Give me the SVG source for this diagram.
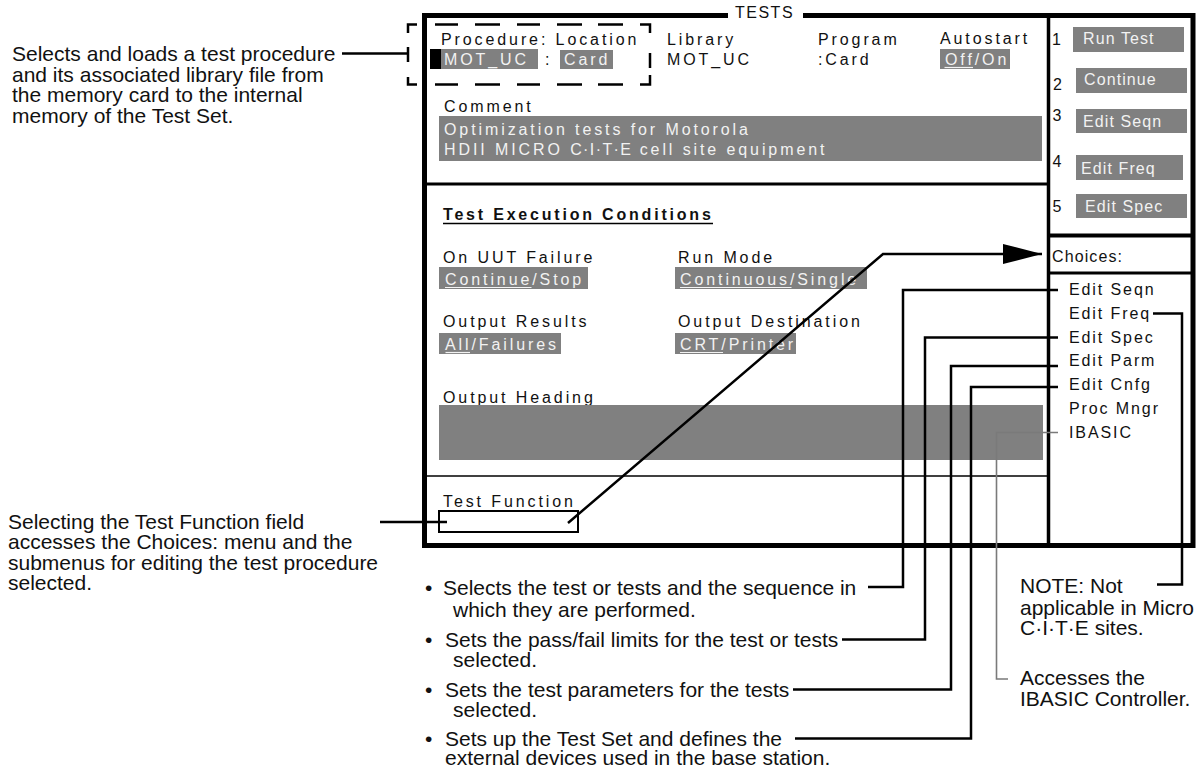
<svg xmlns="http://www.w3.org/2000/svg" width="1202" height="772" viewBox="0 0 1202 772">
  <style>
    text { font-family: "Liberation Sans", Arial, Helvetica, sans-serif; fill: #111; }
    .scr { font-size: 16px; letter-spacing: 2.9px; }
    .hdr { font-size: 16px; font-weight: bold; letter-spacing: 2.8px; }
    .key { font-size: 16px; letter-spacing: 1.1px; }
    .lst { font-size: 16px; letter-spacing: 1.9px; }
    .num { font-size: 16px; }
    .ann { font-size: 21px; }
    .inv { fill: #f2f2f2; }
    .fld { fill: #808080; }
    .frame { fill: none; stroke: #000; stroke-width: 5; }
    .rule { stroke: #000; fill: none; }
    .dash { stroke: #000; stroke-width: 2.5; fill: none; }
    .uline { stroke: #f2f2f2; stroke-width: 1.2; }
    .wire { stroke: #000; stroke-width: 2.5; fill: none; }
    .wire-grey { stroke: #7a7a7a; stroke-width: 1.6; fill: none; }
  </style>
  <defs>
    <marker id="arrow" markerUnits="userSpaceOnUse" markerWidth="40" markerHeight="22" refX="39" refY="11" orient="auto">
      <path d="M0,1 L39,11 L0,21 Z" fill="#000"/>
    </marker>
  </defs>

  <rect width="1202" height="772" fill="#fff"/>

  <!-- TESTS screen frame -->
  <g id="tests-screen">
    <path class="frame" d="M728,15.5 H424.5 V545.5 H1193 V15.5 H803"/>
    <text x="735" y="18" class="key" style="letter-spacing:1.5px">TESTS</text>
    <line class="rule" x1="1048.5" y1="15.5" x2="1048.5" y2="545.5" stroke-width="3.5"/>
    <line class="rule" x1="424.5" y1="184" x2="1048.5" y2="184" stroke-width="3"/>
    <line class="rule" x1="424.5" y1="476" x2="1048.5" y2="476" stroke-width="1.5"/>
  </g>

  <!-- Procedure / Location header fields -->
  <g id="procedure-field">
    <text x="441" y="45" class="scr">Procedure: Location</text>
    <rect x="430" y="49" width="11" height="20" fill="#000"/>
    <rect x="441" y="49" width="97" height="20" class="fld"/>
    <text x="444" y="65" class="scr inv">MOT_UC</text>
    <text x="545" y="65" class="scr">:</text>
    <rect x="560" y="50" width="53" height="19" class="fld"/>
    <text x="564" y="65" class="scr inv">Card</text>
    <path class="dash" d="M408,33 V24.5 H417 M435,24.5 H458 M475,24.5 H500 M517,24.5 H540 M557,24.5 H582 M598,24.5 H623 M640,24.5 H650 V33
                           M408,47 V62 M650,53 V68
                           M408,77 V84.5 H417 M435,84.5 H458 M475,84.5 H500 M517,84.5 H540 M557,84.5 H582 M598,84.5 H623 M640,84.5 H650 V75"/>
  </g>

  <g id="library-field">
    <text x="667" y="45" class="scr">Library</text>
    <text x="667" y="65" class="scr">MOT_UC</text>
  </g>

  <g id="program-field">
    <text x="818" y="45" class="scr">Program</text>
    <text x="818" y="65" class="scr">:Card</text>
  </g>

  <g id="autostart-field">
    <text x="940" y="44" class="scr">Autostart</text>
    <rect x="940" y="49" width="70" height="20" class="fld"/>
    <text x="945" y="65" class="scr inv">Off/On</text>
    <line class="uline" x1="944.5" y1="67.5" x2="973" y2="67.5"/>
  </g>

  <g id="comment-field">
    <text x="444" y="111.5" class="scr">Comment</text>
    <rect x="439" y="116" width="603" height="45" class="fld"/>
    <text x="444" y="135" class="scr inv">Optimization tests for Motorola</text>
    <text x="444" y="155" class="scr inv">HDII MICRO <tspan style="letter-spacing:1.4px">C·I·T·E</tspan> cell site equipment</text>
  </g>

  <!-- Test execution conditions -->
  <g id="execution-conditions">
    <text x="443" y="220" class="hdr">Test Execution Conditions</text>
    <line x1="443" y1="223.5" x2="713" y2="223.5" stroke="#000" stroke-width="1.6"/>
  </g>

  <g id="uut-failure-field">
    <text x="443" y="263" class="scr">On UUT Failure</text>
    <rect x="439" y="267" width="149" height="22" class="fld"/>
    <text x="445" y="285" class="scr inv">Continue/Stop</text>
    <line class="uline" x1="445" y1="287.5" x2="531.5" y2="287.5"/>
  </g>

  <g id="run-mode-field">
    <text x="678" y="263" class="scr">Run Mode</text>
    <rect x="675" y="267" width="192" height="22" class="fld"/>
    <text x="680" y="285" class="scr inv">Continuous/Single</text>
    <line class="uline" x1="680" y1="287.5" x2="791.5" y2="287.5"/>
  </g>

  <g id="output-results-field">
    <text x="443" y="327" class="scr">Output Results</text>
    <rect x="439" y="333" width="122" height="21" class="fld"/>
    <text x="445" y="350" class="scr inv">All/Failures</text>
    <line class="uline" x1="445.5" y1="352.5" x2="470" y2="352.5"/>
  </g>

  <g id="output-destination-field">
    <text x="678" y="327" class="scr">Output Destination</text>
    <rect x="675" y="333" width="121" height="21" class="fld"/>
    <text x="680" y="350" class="scr inv">CRT/Printer</text>
    <line class="uline" x1="680" y1="352.5" x2="723" y2="352.5"/>
  </g>

  <g id="output-heading-field">
    <text x="443" y="403" class="scr">Output Heading</text>
    <rect x="439" y="405" width="604" height="55" class="fld"/>
  </g>

  <g id="test-function-field">
    <text x="443" y="506.5" class="scr">Test Function</text>
    <rect x="439" y="511" width="139" height="21" fill="none" stroke="#000" stroke-width="2"/>
  </g>

  <!-- Soft keys -->
  <g id="softkeys">
    <text x="1052" y="45" class="num">1</text>
    <rect x="1073" y="27" width="111" height="25" class="fld"/>
    <text x="1083" y="43.5" class="key inv">Run Test</text>
    <text x="1053" y="89.5" class="num">2</text>
    <rect x="1076" y="68" width="111" height="25" class="fld"/>
    <text x="1084" y="85" class="key inv">Continue</text>
    <text x="1052.5" y="121" class="num">3</text>
    <rect x="1076" y="109" width="111" height="24" class="fld"/>
    <text x="1083" y="127" class="key inv">Edit Seqn</text>
    <text x="1052.5" y="166.5" class="num">4</text>
    <rect x="1076" y="155" width="107" height="25" class="fld"/>
    <text x="1081" y="173.5" class="key inv">Edit Freq</text>
    <text x="1052.5" y="211.5" class="num">5</text>
    <rect x="1076" y="194" width="111" height="24" class="fld"/>
    <text x="1085" y="211.5" class="key inv">Edit Spec</text>
  </g>

  <!-- Choices menu -->
  <g id="choices-menu">
    <line class="rule" x1="1048.5" y1="235.5" x2="1193" y2="235.5" stroke-width="4"/>
    <line class="rule" x1="1048.5" y1="273" x2="1193" y2="273" stroke-width="3"/>
    <text x="1052" y="261.5" class="key">Choices:</text>
    <text x="1069" y="295" class="lst">Edit Seqn</text>
    <text x="1069" y="318.8" class="lst">Edit Freq</text>
    <text x="1069" y="342.6" class="lst">Edit Spec</text>
    <text x="1069" y="366.4" class="lst">Edit Parm</text>
    <text x="1069" y="390.2" class="lst">Edit Cnfg</text>
    <text x="1069" y="414" class="lst">Proc Mngr</text>
    <text x="1069" y="437.8" class="lst">IBASIC</text>
  </g>

  <!-- Annotations -->
  <g id="note-procedure">
    <text class="ann" x="12" y="61">Selects and loads a test procedure</text>
    <text class="ann" x="12" y="81.5">and its associated library file from</text>
    <text class="ann" x="12" y="102">the memory card to the internal</text>
    <text class="ann" x="12" y="122.5">memory of the Test Set.</text>
  </g>

  <g id="note-test-function">
    <text class="ann" x="8" y="528.5">Selecting the Test Function field</text>
    <text class="ann" x="8" y="549">accesses the Choices: menu and the</text>
    <text class="ann" x="8" y="569.5">submenus for editing the test procedure</text>
    <text class="ann" x="8" y="590">selected.</text>
  </g>

  <g id="note-seqn">
    <text class="ann" x="425" y="595">•</text>
    <text class="ann" x="443" y="595">Selects the test or tests and the sequence in</text>
    <text class="ann" x="453" y="616.5">which they are performed.</text>
  </g>

  <g id="note-spec">
    <text class="ann" x="425" y="646.5">•</text>
    <text class="ann" x="445" y="646.5">Sets the pass/fail limits for the test or tests</text>
    <text class="ann" x="453" y="666.5">selected.</text>
  </g>

  <g id="note-parm">
    <text class="ann" x="425" y="696.5">•</text>
    <text class="ann" x="445" y="696.5">Sets the test parameters for the tests</text>
    <text class="ann" x="453" y="716.5">selected.</text>
  </g>

  <g id="note-cnfg">
    <text class="ann" x="425" y="745.5">•</text>
    <text class="ann" x="445" y="745.5">Sets up the Test Set and defines the</text>
    <text class="ann" x="445" y="765">external devices used in the base station.</text>
  </g>

  <g id="note-freq">
    <text class="ann" x="1020" y="593">NOTE: Not</text>
    <text class="ann" x="1020" y="614.5">applicable in Micro</text>
    <text class="ann" x="1020" y="635">C·I·T·E sites.</text>
  </g>

  <g id="note-ibasic">
    <text class="ann" x="1020" y="685">Accesses the</text>
    <text class="ann" x="1020" y="705.5">IBASIC Controller.</text>
  </g>

  <!-- Connectors -->
  <g id="connectors">
    <path class="wire" d="M342,53.5 H408"/>
    <path class="wire" d="M380,522 H447"/>
    <path class="wire" d="M568,523 L883,254 H1042" marker-end="url(#arrow)"/>
    <path class="wire" d="M1058,290 H903 V587 H868"/>
    <path class="wire" d="M1153,313.5 H1182 V584.5 H1157"/>
    <path class="wire" d="M1058,337.5 H925 V639.5 H842"/>
    <path class="wire" d="M1058,366 H951 V689.5 H793"/>
    <path class="wire" d="M1058,387 H971 V738.5 H795"/>
    <path class="wire-grey" d="M1058,432.5 H996.5 V679 H1008"/>
  </g>
</svg>
